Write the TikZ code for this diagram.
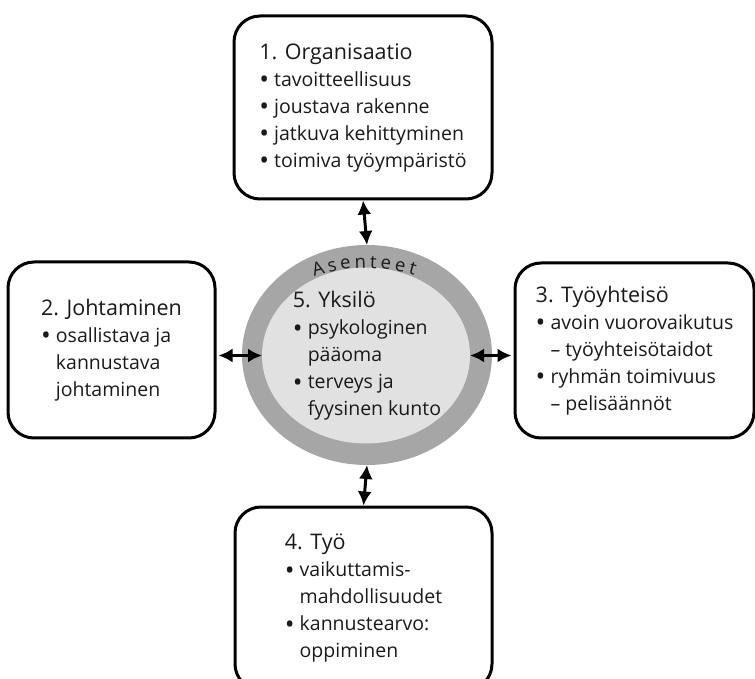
\documentclass[tikz,border=0pt]{standalone}
\usepackage{fontspec}
\setmainfont{Open Sans}
\usepackage{tikz}
\usetikzlibrary{positioning,arrows.meta,shapes.geometric}
\definecolor{rengas}{HTML}{A6A6A6}
\definecolor{sisus}{HTML}{E1E1E1}
\definecolor{teksti}{HTML}{1A1A1A}
\newcommand{\otsikko}[1]{{\fontsize{21.5}{27}\selectfont #1}}
\newcommand{\pallo}{\raisebox{-2.5pt}{\fontsize{26}{27}\selectfont\textbullet}}
\newcommand{\kohta}[1]{\pallo\ #1}
\newcommand{\jatko}[1]{\hphantom{\pallo\ }#1}

\begin{document}
\begin{tikzpicture}[x=1pt,y=1pt,
  font=\fontsize{19.5}{27}\selectfont,
  laatikko/.style={draw, line width=3pt, rounded corners=26pt, align=left,
    text=teksti, inner sep=0pt},
  kehä/.style={ellipse, inner sep=0pt, outer sep=0pt},
  kirjain/.style={anchor=base, inner sep=0pt, text=teksti, font=\fontsize{18.5}{20}\selectfont},
  nuoli/.style={line width=3pt,
    {Latex[length=14pt,width=14pt]}-{Latex[length=14pt,width=14pt]}}]
  \useasboundingbox (0,0) rectangle (755,678);
  \clip (0,0) rectangle (755,678);
  % laatikot
  \node[laatikko, minimum width=258pt, minimum height=183pt] (org) at (363,570.5)
    {\otsikko{1. Organisaatio}\\ \kohta{tavoitteellisuus}\\ \kohta{joustava rakenne}\\
     \kohta{jatkuva kehittyminen}\\ \kohta{toimiva työympäristö}};
  \node[laatikko, minimum width=207pt, minimum height=176pt] (joht) at (111.5,328)
    {\otsikko{2. Johtaminen}\\ \kohta{osallistava ja}\\ \jatko{kannustava}\\ \jatko{johtaminen}};
  \node[laatikko, minimum width=239pt, minimum height=175pt] (tyoy) at (634.5,327.5)
    {\otsikko{3. Työyhteisö}\\ \kohta{avoin vuorovaikutus}\\ \jatko{– työyhteisötaidot}\\
     \kohta{ryhmän toimivuus}\\ \jatko{– pelisäännöt}};
  \node[laatikko, minimum width=257pt, minimum height=183pt] (tyo) at (363.5,79.5)
    {\otsikko{4. Työ}\\ \kohta{vaikuttamis-}\\ \jatko{mahdollisuudet}\\
     \kohta{kannustearvo:}\\ \jatko{oppiminen}};
  % yksilö ja asenteet
  \node[kehä, fill=rengas, minimum width=250pt, minimum height=220pt] (asen) at (367,323) {};
  \node[kehä, fill=sisus, minimum width=208pt, minimum height=176pt] (yks) at (366,322.5) {};
  \node[align=left, text=teksti, inner sep=0pt] (ykstxt) at (367,322)
    {\otsikko{5. Yksilö}\\ \kohta{psykologinen}\\ \jatko{pääoma}\\
     \kohta{terveys ja}\\ \jatko{fyysinen kunto}};
  \foreach \k/\kulma [count=\i] in {A/106, s/101.3, e/96.8, n/91.9, t/87.6, e/83.4, e/78.6, t/74.4}
    \node[kirjain, rotate=\kulma-90] (asenne\i) at ([shift={(\kulma:168)}] 366,242) {\k};
  % nuolet
  \draw[nuoli] (org.south) -- (asen.north);
  \draw[nuoli] (asen.south) -- (tyo.north);
  \draw[nuoli, shorten >=2pt] (yks.west) -- (yks.west -| joht.east);
  \draw[nuoli, shorten >=2pt] (yks.east) -- (yks.east -| tyoy.west);
\end{tikzpicture}
\end{document}
